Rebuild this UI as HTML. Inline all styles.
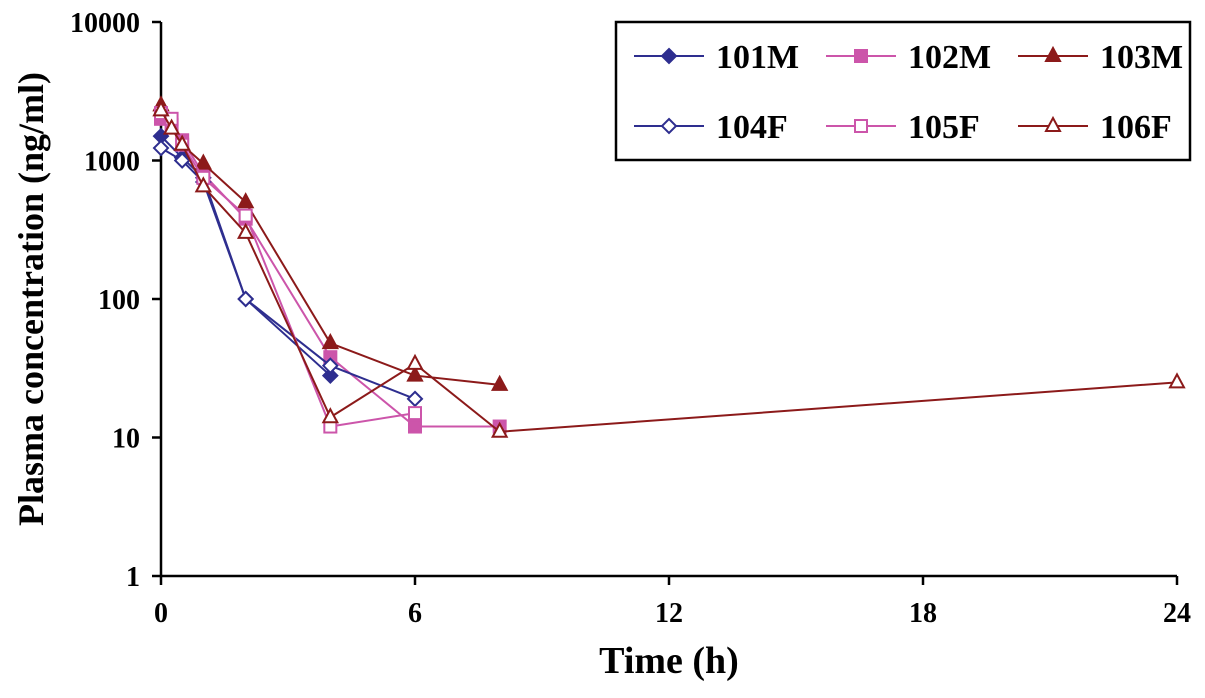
<!DOCTYPE html>
<html><head><meta charset="utf-8"><style>
body{margin:0;background:#fff;}
svg text{font-family:"Liberation Serif",serif;font-weight:bold;fill:#000;}
</style></head><body>
<svg id="c" width="1205" height="693"></svg>
<script>
const times = [0,0.25,0.5,1,2,4,6,8,24];
const s101M = [1500,null,1050,750,100,28,null,null,null];
const s102M = [2000,1800,1400,800,380,38,12,12,null];
const s103M = [2500,null,1300,950,500,48,28,24,null];
const s104F = [1230,null,1000,700,100,33,19,null,null];
const s105F = [2200,2000,1300,750,400,12,15,null,null];
const s106F = [2300,1700,1300,650,300,14,34,11,25];
const xTicks = [0,6,12,18,24];
const yTicks = [1,10,100,1000,10000];
const seriesNames = ["101M","102M","103M","104F","105F","106F"];
const seriesColors = ["#2e2e8f","#cc55aa","#8c1a1a","#2e2e8f","#cc55aa","#8c1a1a"];
const seriesMarkers = ["diamondF","squareF","triF","diamondO","squareO","triO"];
const allSeries = [s101M,s102M,s103M,s104F,s105F,s106F];

const NS="http://www.w3.org/2000/svg";
const svg=document.getElementById('c');
const X0=161,X1=1177,Ytop=22,Ybot=576;
const xs=t=>X0+t/24*(X1-X0);
const ys=v=>Ybot-(Math.log10(v))/4*(Ybot-Ytop);
function mk(tag,a){const e=document.createElementNS(NS,tag);for(const k in a)e.setAttribute(k,a[k]);svg.appendChild(e);return e;}
function marker(type,x,y,col){
  let e;
  const fill=type.endsWith('F')?col:'#fff';
  if(type.startsWith('diamond')) e=mk('polygon',{points:`${x},${y-7} ${x+7},${y} ${x},${y+7} ${x-7},${y}`,fill:fill,stroke:col,'stroke-width':2});
  else if(type.startsWith('square')) e=mk('rect',{x:x-6,y:y-6,width:12,height:12,fill:fill,stroke:col,'stroke-width':2});
  else e=mk('polygon',{points:`${x},${y-8} ${x+7},${y+5} ${x-7},${y+5}`,fill:fill,stroke:col,'stroke-width':2});
  return e;
}
let ax=mk('line',{x1:X0,y1:Ytop,x2:X0,y2:Ybot,stroke:'#000','stroke-width':2.5});

let bx=mk('line',{x1:X0,y1:Ybot,x2:X1,y2:Ybot,stroke:'#000','stroke-width':2.5});

yTicks.forEach(v=>{
  const y=ys(v);
  mk('line',{x1:X0-9,y1:y,x2:X0,y2:y,stroke:'#000','stroke-width':2.5});
  const t=mk('text',{x:X0-21,y:y+10,'text-anchor':'end','font-size':28});t.textContent=v;
  
});
xTicks.forEach(v=>{
  const x=xs(v);
  mk('line',{x1:x,y1:Ybot,x2:x,y2:Ybot+9,stroke:'#000','stroke-width':2.5});
  const t=mk('text',{x:x,y:Ybot+46,'text-anchor':'middle','font-size':28});t.textContent=v;
  
});
let xt=mk('text',{x:669,y:673,'text-anchor':'middle','font-size':38});xt.textContent='Time (h)';

let yt=mk('text',{x:0,y:0,'text-anchor':'middle','font-size':36,transform:'translate(43,299) rotate(-90)'});yt.textContent='Plasma concentration (ng/ml)';

allSeries.forEach((s,i)=>{
  const pts=[];s.forEach((v,j)=>{if(v!=null)pts.push([xs(times[j]),ys(v)]);});
  const l=mk('polyline',{points:pts.map(p=>p.join(',')).join(' '),fill:'none',stroke:seriesColors[i],'stroke-width':2});
  
  
  pts.forEach(p=>{const m=marker(seriesMarkers[i],p[0],p[1],seriesColors[i]);
    
    });
});
let lb=mk('rect',{x:616,y:22,width:574,height:138,fill:'#fff',stroke:'#000','stroke-width':2.5});

seriesNames.forEach((n,i)=>{
  const col=i%3,row=Math.floor(i/3);
  const lx=634+col*192,ly=56+row*70;
  mk('line',{x1:lx,y1:ly,x2:lx+70,y2:ly,stroke:seriesColors[i],'stroke-width':2});
  marker(seriesMarkers[i],lx+35,ly,seriesColors[i]);
  const t=mk('text',{x:lx+82,y:ly+12,'font-size':34});t.textContent=n;
  
});
</script>
</body></html>
